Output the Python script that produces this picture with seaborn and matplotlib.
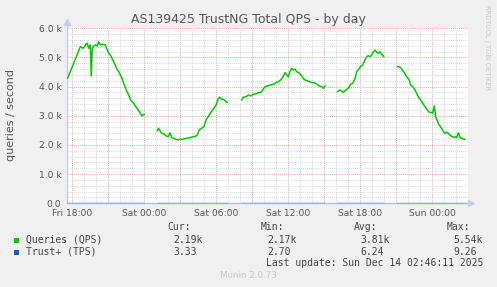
import matplotlib
matplotlib.use("Agg")
import matplotlib.pyplot as plt
import matplotlib.dates as mdates
from matplotlib.patches import Rectangle
import numpy as np
import pandas as pd
import seaborn as sns

# ---------------- data ----------------
START = pd.Timestamp("2025-12-12 18:00")   # Fri 18:00
title = "AS139425 TrustNG Total QPS - by day"
ylabel = "queries / second"

# hours after Fri 18:00, queries per second (gaps between segments)
seg1_hours = [-0.38, -0.17, 0.12, 0.39, 0.67, 0.87, 1.03, 1.14, 1.25, 1.37, 1.50, 1.58, 1.67,
              1.78, 1.92, 2.06, 2.20, 2.33, 2.48, 2.62, 2.75, 2.89, 3.03, 3.17, 3.31, 3.45,
              3.58, 3.73, 3.87, 4.00, 4.14, 4.28, 4.42, 4.56, 4.70, 4.83, 4.98, 5.12, 5.25,
              5.39, 5.53, 5.67, 5.81, 5.89, 6.00]
seg1_qps = [4290, 4510, 4800, 5085, 5370, 5315, 5370, 5460, 5490, 5315, 5430, 4365, 5315,
            5395, 5430, 5395, 5540, 5430, 5460, 5440, 5430, 5280, 5145, 5085, 4970, 4855,
            4740, 4595, 4515, 4400, 4285, 4115, 3975, 3825, 3715, 3565, 3485, 3430, 3335,
            3260, 3175, 3085, 2995, 3030, 3050]

seg2_hours = [7.08, 7.17, 7.31, 7.45, 7.64, 7.81, 8.00, 8.14, 8.28, 8.42, 8.64, 8.83, 8.98,
              9.20, 9.39, 9.58, 9.81, 10.03, 10.23, 10.42, 10.58, 10.78, 10.98, 11.14, 11.33,
              11.53, 11.75, 11.98, 12.17, 12.31, 12.45, 12.58, 12.73, 12.92]
seg2_qps = [2480, 2570, 2490, 2400, 2375, 2310, 2285, 2420, 2265, 2230, 2195, 2170, 2205,
            2195, 2215, 2230, 2250, 2285, 2285, 2340, 2515, 2570, 2625, 2855, 2970,
            3105, 3225, 3370, 3600, 3635, 3565, 3565, 3520, 3450]

seg3_hours = [14.12, 14.25, 14.48, 14.67, 14.87, 15.08, 15.31, 15.50, 15.70, 15.87, 16.06,
              16.25, 16.48, 16.75, 16.98, 17.17, 17.37, 17.53, 17.73, 17.87, 18.00, 18.14,
              18.28, 18.42, 18.56, 18.70, 18.92, 19.12, 19.31, 19.53, 19.75, 19.95, 20.14,
              20.37, 20.58, 20.78, 20.92, 21.00, 21.08]
seg3_qps = [3540, 3635, 3655, 3715, 3680, 3740, 3750, 3795, 3795, 3885, 4000,
            4020, 4055, 4080, 4135, 4170, 4230, 4320, 4480, 4400, 4340, 4515,
            4630, 4570, 4595, 4515, 4460, 4365, 4250, 4205, 4170, 4135, 4135,
            4090, 4020, 4000, 3945, 4000, 4030]

seg4_hours = [22.08, 22.31, 22.58, 22.81, 23.00, 23.20, 23.37, 23.56, 23.70, 23.83, 24.03,
              24.20, 24.39, 24.53, 24.67, 24.81, 24.95, 25.08, 25.23, 25.37, 25.50, 25.64,
              25.78, 25.97]
seg4_qps = [3825, 3885, 3805, 3885, 3945, 4080, 4115, 4285, 4515, 4570, 4685,
            4740, 4915, 5025, 5060, 5025, 5085, 5180, 5255, 5180, 5145, 5200,
            5110, 5025]

seg5_hours = [27.08, 27.25, 27.45, 27.64, 27.87, 28.08, 28.20, 28.37, 28.56, 28.70, 28.83,
              29.03, 29.20, 29.39, 29.58, 29.75, 29.87, 30.03, 30.17, 30.28, 30.42, 30.58,
              30.78, 30.92, 31.06, 31.20, 31.33, 31.48, 31.62, 31.75, 31.89, 32.03, 32.17,
              32.31, 32.58, 32.73]
seg5_qps = [4685, 4685, 4605, 4490, 4340, 4230, 4055, 4000, 3885, 3770, 3655,
            3540, 3430, 3315, 3200, 3120, 3120, 3085, 3345, 2970, 2820, 2685,
            2570, 2455, 2400, 2435, 2400, 2340, 2300, 2260, 2280, 2250, 2420,
            2250, 2210, 2190]

# Trust+ (TPS): tiny values, drawn on the baseline (segment start / end)
tps_hours = [[-0.38, 6.00], [7.08, 12.92], [14.12, 21.08], [22.08, 25.97], [27.08, 32.73]]
tps_vals = [[8.1, 6.5], [5.2, 6.4], [7.0, 8.8], [7.5, 9.26], [6.1, 3.33]]

legend_names = ["Queries (QPS)", "Trust+ (TPS)"]
legend_cur = ["2.19k", "3.33"]
legend_min = ["2.17k", "2.70"]
legend_avg = ["3.81k", "6.24"]
legend_max = ["5.54k", "9.26"]
last_update = "Last update: Sun Dec 14 02:46:11 2025"
y_ticks = [0, 1000, 2000, 3000, 4000, 5000, 6000]
y_ticklabels = ["0.0", "1.0 k", "2.0 k", "3.0 k", "4.0 k", "5.0 k", "6.0 k"]

GREEN = "#00cc00"
BLUE = "#0066b3"

# ---------------- build frames ----------------
segs = [(seg1_hours, seg1_qps), (seg2_hours, seg2_qps), (seg3_hours, seg3_qps),
        (seg4_hours, seg4_qps), (seg5_hours, seg5_qps)]
frames = []
for i, (h, v) in enumerate(segs):
    frames.append(pd.DataFrame({"time": START + pd.to_timedelta(h, unit="h"),
                                "qps": v, "segment": i}))
df = pd.concat(frames, ignore_index=True)

tframes = []
for i, (h, v) in enumerate(zip(tps_hours, tps_vals)):
    tframes.append(pd.DataFrame({"time": START + pd.to_timedelta(h, unit="h"),
                                 "tps": v, "segment": i}))
dft = pd.concat(tframes, ignore_index=True)

# ---------------- figure ----------------
sns.set_theme(style="white")
plt.rcParams["font.family"] = ["DejaVu Sans"]

W, H = 497, 287
fig = plt.figure(figsize=(W / 100, H / 100), dpi=100, facecolor="#f0f0f0")
L, R, T, B = 67, 468, 28.3, 203.3
ax = fig.add_axes([L / W, 1 - B / H, (R - L) / W, (B - T) / H])
ax.set_facecolor("white")

t_left = START + pd.Timedelta(hours=-(72.3 - L) / 12)
t_right = START + pd.Timedelta(hours=(R - 72.3) / 12)

# grid
ax.xaxis.set_major_locator(mdates.HourLocator(byhour=range(0, 24, 3)))
ax.xaxis.set_minor_locator(mdates.HourLocator())
ax.yaxis.set_major_locator(matplotlib.ticker.FixedLocator(y_ticks))
ax.yaxis.set_minor_locator(matplotlib.ticker.MultipleLocator(200))
ax.grid(which="minor", color="#dadada", linestyle=(0, (1, 1)), linewidth=0.75)
ax.grid(which="major", color="#f0a8a8", linestyle=(0, (1, 1)), linewidth=0.75)
ax.set_axisbelow(True)

sns.lineplot(data=df, x="time", y="qps", units="segment", estimator=None,
             color=GREEN, linewidth=1.1, ax=ax, zorder=3)
sns.lineplot(data=dft, x="time", y="tps", units="segment", estimator=None,
             color=BLUE, linewidth=0.8, alpha=0.25, ax=ax, zorder=4, clip_on=False)

ax.set_xlim(t_left, t_right)
ax.set_ylim(0, 6000)
ax.set_yticks(y_ticks)
ax.set_yticklabels(y_ticklabels)


def xfmt(x, pos=None):
    d = mdates.num2date(x)
    return d.strftime("%a %H:%M") if d.hour % 6 == 0 else ""


ax.xaxis.set_major_formatter(matplotlib.ticker.FuncFormatter(xfmt))
ax.tick_params(axis="both", which="major", labelsize=6.6, labelcolor="#555555",
               length=2, width=0.7, color="#f0a8a8", pad=2)
ax.tick_params(axis="both", which="minor", length=0)
ax.set_xlabel("")
ax.set_ylabel("")

for s in ax.spines.values():
    s.set_visible(False)
axcol = "#c4ccf2"
ax.plot([0, 0], [0, 1.035], transform=ax.transAxes, color=axcol, lw=1.0,
        clip_on=False, zorder=2)
ax.plot([0, 1.008], [0, 0], transform=ax.transAxes, color="#b4bfee", lw=1.0,
        clip_on=False, zorder=2)
ax.plot([0], [1.035], marker="^", markersize=4, color=axcol, transform=ax.transAxes,
        clip_on=False)
ax.plot([1.008], [0], marker=">", markersize=4, color=axcol, transform=ax.transAxes,
        clip_on=False)

# texts
def ft(x, y, s, **kw):
    fig.text(x / W, 1 - y / H, s, **kw)

ft(248, 20, title, ha="center", va="center", fontsize=9, color="#555555")
ft(11, 115, ylabel, ha="center", va="center", rotation=90, fontsize=8, color="#555555")
ft(487, 5, "RRDTOOL / TOBI OETIKER", ha="center", va="top", rotation=270,
   fontsize=4.8, color="#c8c8c8")

mono = dict(family="DejaVu Sans Mono", fontsize=7, color="#444444", va="center")
ft(167, 227, "Cur:", **mono)
ft(261, 227, "Min:", **mono)
ft(354, 227, "Avg:", **mono)
ft(447, 227, "Max:", **mono)
rows_y = [240, 252]
for i, (name, col) in enumerate(zip(legend_names, [GREEN, BLUE])):
    y = rows_y[i]
    fig.patches.append(Rectangle((14 / W, 1 - (y + 2.5) / H), 5 / W, 5 / H,
                                 transform=fig.transFigure, facecolor=col,
                                 edgecolor="none"))
    ft(26, y, name, **mono)
    ft(173, y, legend_cur[i], **mono)
    ft(267, y, legend_min[i], **mono)
    ft(360, y, legend_avg[i], **mono)
    ft(453, y, legend_max[i], **mono)
ft(483, 263.5, last_update, ha="right", **{k: v for k, v in mono.items()})
ft(248, 276, "Munin 2.0.73", ha="center", va="center", fontsize=6.3, color="#c8c8c8")

fig.savefig("out.png", dpi=100, facecolor=fig.get_facecolor())
